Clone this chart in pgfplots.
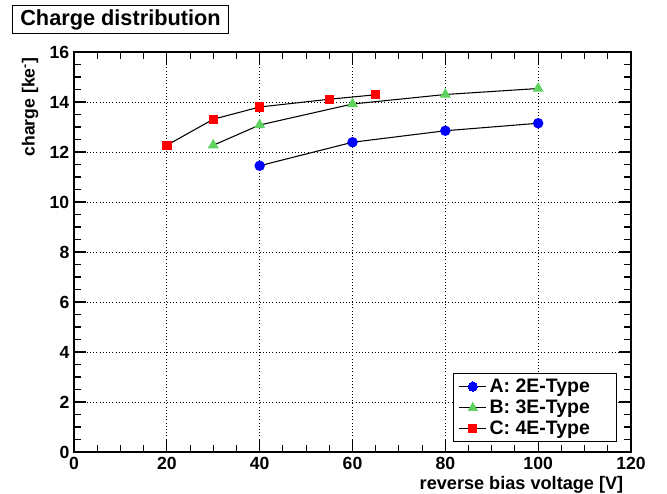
\documentclass[border=0pt]{standalone}
\usepackage{fontspec}
\setmainfont{Liberation Sans}
\usepackage{pgfplots}
\pgfplotsset{compat=1.18}
\definecolor{mygreen}{RGB}{95,211,95}
\begin{document}
\begin{tikzpicture}
\useasboundingbox (0,0) rectangle (500.25pt,369.75pt);
\node[draw, line width=0.75pt, anchor=north west, inner sep=0pt, minimum width=162pt, minimum height=21pt,
  font=\fontsize{16.3}{18}\selectfont\bfseries] at (9pt,366pt) {Charge distribution};
\begin{axis}[
  at={(55.5pt,30.75pt)}, anchor=south west,
  scale only axis, width=417.75pt, height=300pt,
  xmin=0, xmax=120, ymin=0, ymax=16,
  xtick={0,20,...,120}, ytick={0,2,...,16},
  minor x tick num=3, minor y tick num=3,
  tick align=inside,
  major tick length=9pt, minor tick length=5pt,
  grid=major,
  major grid style={black, dotted, line width=0.7pt},
  axis line style={line width=1.2pt},
  every tick/.style={black, line width=0.8pt},
  /pgf/number format/assume math mode=true,
  tick label style={font=\fontsize{13.2}{15}\selectfont\bfseries},
  legend style={at={(rel axis cs:0.975,0.025)}, anchor=south east, draw=black, line width=0.75pt,
    font=\fontsize{14.6}{16}\selectfont\bfseries, inner ysep=2pt, inner xsep=4pt, row sep=0pt},
  legend cell align=left,
  legend image code/.code={
    \draw[black, line width=0.8pt] (0cm,0cm) -- (0.72cm,0cm);
    \draw[#1, line width=0pt, draw=none] plot coordinates {(0.36cm,0cm)};
  },
]
\addplot[black, line width=0.8pt, mark=*, mark options={draw=blue, fill=blue}, mark size=3.5pt]
  coordinates {(40,11.45) (60,12.39) (80,12.85) (100,13.15)};
\addlegendentry{A: 2E-Type\hspace*{14pt}}
\addplot[black, line width=0.8pt, mark=triangle*, mark options={draw=mygreen, fill=mygreen}, mark size=4pt]
  coordinates {(30,12.27) (40,13.08) (60,13.92) (80,14.30) (100,14.54)};
\addlegendentry{B: 3E-Type\hspace*{14pt}}
\addplot[black, line width=0.8pt, mark=square*, mark options={draw=red, fill=red}, mark size=3.1pt]
  coordinates {(20,12.27) (30,13.31) (40,13.80) (55,14.11) (65,14.29)};
\addlegendentry{C: 4E-Type\hspace*{14pt}}
\end{axis}
\node[rotate=90, anchor=east, font=\fontsize{13.2}{15}\selectfont\bfseries] at (22.5pt,330pt) {charge [ke\textsuperscript{-}]};
\node[anchor=east, font=\fontsize{13.6}{15}\selectfont\bfseries] at (471pt,6pt) {reverse bias voltage [V]};
\end{tikzpicture}
\end{document}
